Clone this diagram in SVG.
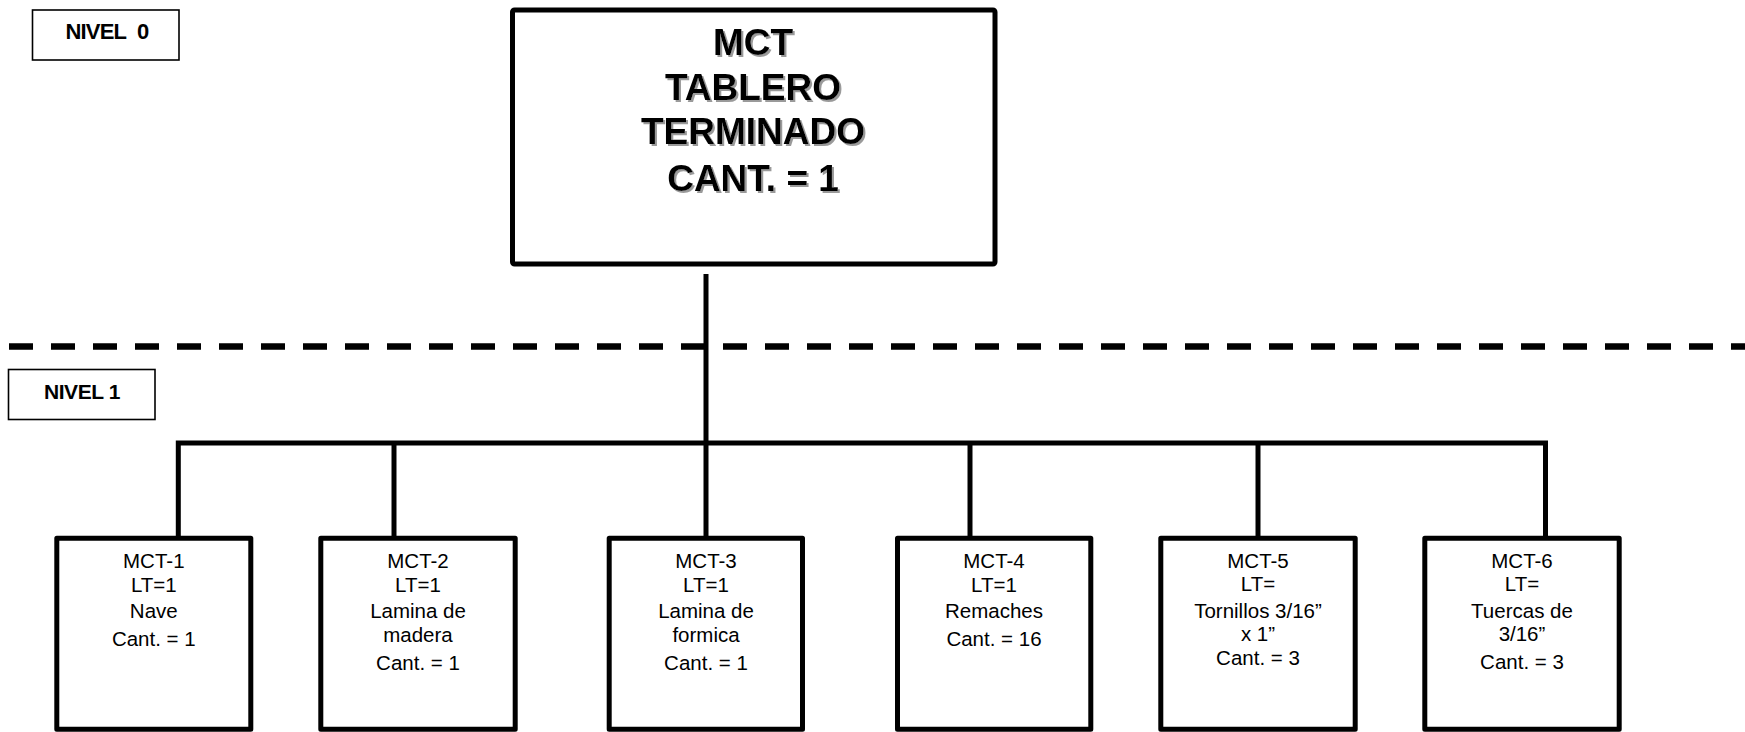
<svg xmlns="http://www.w3.org/2000/svg" width="1745" height="732" viewBox="0 0 1745 732">
  <defs>
    <filter id="txtShadow" x="-10%" y="-10%" width="130%" height="140%">
      <feDropShadow dx="2" dy="2" stdDeviation="0.4" flood-color="#9a9a9a" flood-opacity="1"/>
    </filter>
    <style>
      .lvl { fill: #fff; stroke: #000; stroke-width: 1.6; }
      .lvl-t { font-family: "Liberation Sans", Arial, sans-serif; font-weight: bold; fill: #000; text-anchor: middle; }
      .root { fill: #fff; stroke: #000; stroke-width: 5; stroke-linejoin: round; }
      .root-t { font-family: "Liberation Sans", Arial, sans-serif; font-weight: bold; font-size: 37px; fill: #000; text-anchor: middle; filter: url(#txtShadow); }
      .item { fill: #fff; stroke: #000; stroke-width: 5; stroke-linejoin: round; }
      .item-t { font-family: "Liberation Sans", Arial, sans-serif; font-size: 20.5px; fill: #000; text-anchor: middle; }
      .wire { fill: none; stroke: #000; stroke-width: 5; stroke-linejoin: miter; }
      .divider { fill: none; stroke: #000; stroke-width: 6.5; stroke-dasharray: 24 18; }
    </style>
  </defs>

  <rect width="1745" height="732" fill="#fff"/>

  <!-- level separator -->
  <line class="divider" x1="9" y1="346.5" x2="1745" y2="346.5"/>

  <!-- connectors -->
  <g id="connectors">
    <line class="wire" x1="706" y1="274" x2="706" y2="538"/>
    <path class="wire" d="M178.3,538 V443 H1545.5 V538"/>
    <line class="wire" x1="394" y1="443" x2="394" y2="538"/>
    <line class="wire" x1="970" y1="443" x2="970" y2="538"/>
    <line class="wire" x1="1258" y1="443" x2="1258" y2="538"/>
  </g>

  <!-- level labels -->
  <g id="nivel0">
    <rect class="lvl" x="32.5" y="10" width="146.5" height="50"/>
    <text class="lvl-t" x="107" y="38.5" font-size="22" letter-spacing="-0.8" word-spacing="6">NIVEL 0</text>
  </g>
  <g id="nivel1">
    <rect class="lvl" x="8.5" y="369.5" width="146.5" height="50"/>
    <text class="lvl-t" x="82" y="398.5" font-size="21" letter-spacing="-0.4">NIVEL 1</text>
  </g>

  <!-- top-level assembly -->
  <g id="mct">
    <rect class="root" x="512.5" y="10" width="482.5" height="254" rx="2"/>
    <text class="root-t" x="753" y="55">MCT</text>
    <text class="root-t" x="753" y="100">TABLERO</text>
    <text class="root-t" x="753" y="143.5">TERMINADO</text>
    <text class="root-t" x="753" y="190.5">CANT. = 1</text>
  </g>

  <!-- level 1 components -->
  <g id="mct-1">
    <rect class="item" x="56.8" y="538.2" width="194" height="191"/>
    <text class="item-t" x="153.8" y="568">MCT-1</text>
    <text class="item-t" x="153.8" y="592">LT=1</text>
    <text class="item-t" x="153.8" y="618">Nave</text>
    <text class="item-t" x="153.8" y="646">Cant. = 1</text>
  </g>
  <g id="mct-2">
    <rect class="item" x="320.8" y="538.2" width="194.4" height="191"/>
    <text class="item-t" x="418" y="568">MCT-2</text>
    <text class="item-t" x="418" y="592">LT=1</text>
    <text class="item-t" x="418" y="618">Lamina de</text>
    <text class="item-t" x="418" y="642">madera</text>
    <text class="item-t" x="418" y="670">Cant. = 1</text>
  </g>
  <g id="mct-3">
    <rect class="item" x="609.2" y="538.2" width="193.3" height="191"/>
    <text class="item-t" x="706" y="568">MCT-3</text>
    <text class="item-t" x="706" y="592">LT=1</text>
    <text class="item-t" x="706" y="618">Lamina de</text>
    <text class="item-t" x="706" y="642">formica</text>
    <text class="item-t" x="706" y="670">Cant. = 1</text>
  </g>
  <g id="mct-4">
    <rect class="item" x="897.5" y="538.2" width="193.3" height="191"/>
    <text class="item-t" x="994" y="568">MCT-4</text>
    <text class="item-t" x="994" y="592">LT=1</text>
    <text class="item-t" x="994" y="618">Remaches</text>
    <text class="item-t" x="994" y="646">Cant. = 16</text>
  </g>
  <g id="mct-5">
    <rect class="item" x="1160.8" y="538.2" width="194.4" height="191"/>
    <text class="item-t" x="1258" y="568">MCT-5</text>
    <text class="item-t" x="1258" y="591">LT=</text>
    <text class="item-t" x="1258" y="618">Tornillos 3/16”</text>
    <text class="item-t" x="1258" y="641">x 1”</text>
    <text class="item-t" x="1258" y="665">Cant. = 3</text>
  </g>
  <g id="mct-6">
    <rect class="item" x="1424.8" y="538.2" width="194.4" height="191"/>
    <text class="item-t" x="1522" y="568">MCT-6</text>
    <text class="item-t" x="1522" y="591">LT=</text>
    <text class="item-t" x="1522" y="618">Tuercas de</text>
    <text class="item-t" x="1522" y="641">3/16”</text>
    <text class="item-t" x="1522" y="669">Cant. = 3</text>
  </g>
</svg>
